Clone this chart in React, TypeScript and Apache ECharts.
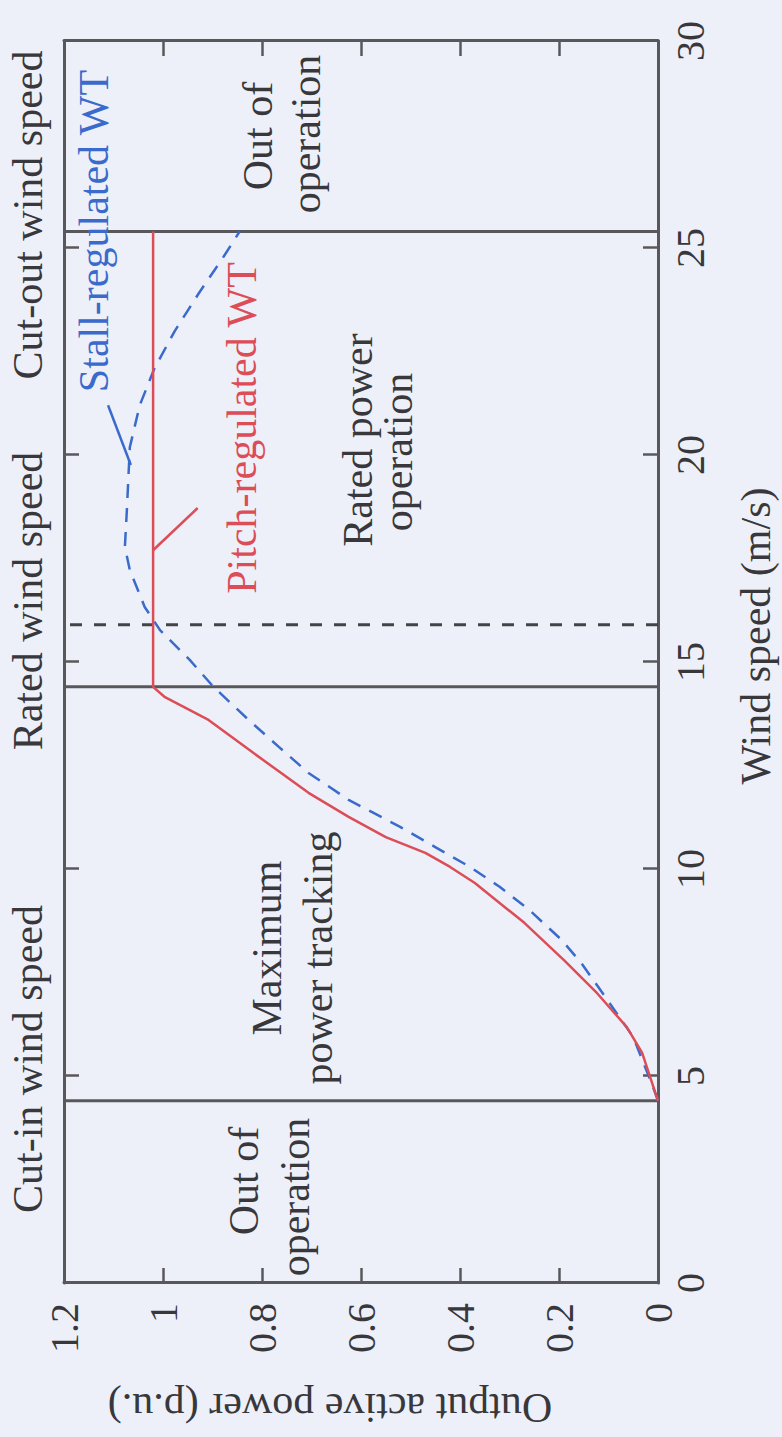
import React, { useEffect, useRef } from "react";
import * as echarts from "echarts";

// ---- data (wind speed in m/s, output power in p.u.) ----
const windTicks = [0, 5, 10, 15, 20, 25, 30];
const powerTicks = [0, 0.2, 0.4, 0.6, 0.8, 1, 1.2];

const pitchWind = [4.4, 5.56, 6.18, 7.0, 7.8, 8.7, 9.18, 9.66, 10.05, 10.39, 10.77, 11.26, 11.84, 12.8, 13.6, 14.15, 14.4, 25.4];
const pitchPower = [0, 0.032, 0.063, 0.123, 0.19, 0.27, 0.32, 0.37, 0.42, 0.47, 0.55, 0.625, 0.706, 0.817, 0.908, 0.996, 1.02, 1.02];

const stallWind = [4.4, 4.73, 5.94, 6.8, 7.73, 8.29, 9.01, 9.57, 10.05, 10.53, 11.01, 11.67, 12.32, 12.95, 13.6, 14.4, 15.05, 15.77, 16.33, 17.22, 17.78, 18.67, 20.19, 21.2, 22.1, 23.0, 23.9, 24.8, 25.4];
const stallPower = [0, 0.01, 0.05, 0.1, 0.155, 0.195, 0.26, 0.32, 0.38, 0.45, 0.52, 0.625, 0.706, 0.766, 0.827, 0.898, 0.946, 1.006, 1.037, 1.067, 1.077, 1.073, 1.067, 1.047, 1.017, 0.976, 0.928, 0.877, 0.845];

const boundaryWind = [4.4, 14.4, 25.4]; // cut-in, rated, cut-out
const ratedDashedWind = [15.9];
const boundaryPower = [0, 1.2];

const pitchPointerWind = [17.7, 18.72];
const pitchPointerPower = [1.02, 0.93];
const stallPointerWind = [21.2, 19.76];
const stallPointerPower = [1.111, 1.065];

const W = 1437;
const H = 782;
const FONT = "'Liberation Serif', 'Times New Roman', serif";
const GRAY = "#58585c";
const TEXT = "#38383c";
const RED = "#dc4d57";
const BLUE = "#3a6bcc";
const BG = "#edf0f8";

const zip = (xs: number[], ys: number[]) => xs.map((x, i) => [x, ys[i]]);

function txt(text: string, x: number, y: number, color = TEXT, size = 42, rotation = 0) {
  return {
    type: "text",
    x,
    y,
    rotation,
    silent: true,
    z: 100,
    style: {
      text,
      fill: color,
      font: `${size}px ${FONT}`,
      align: "center",
      verticalAlign: "middle",
      textAlign: "center",
      textVerticalAlign: "middle",
    },
  };
}

export default function App() {
  const ref = useRef<HTMLDivElement>(null);

  useEffect(() => {
    document.body.style.margin = "0";
    document.body.style.background = BG;
    if (!ref.current) return;
    const chart = echarts.init(ref.current, null, { renderer: "svg", width: W, height: H });

    const axisCommon = (show: boolean) => ({
      type: "value",
      axisLine: { show: true, onZero: false, lineStyle: { color: GRAY, width: 3 } },
      axisTick: { show: true, inside: true, length: 15, lineStyle: { color: GRAY, width: 2.5 } },
      splitLine: { show: false },
      axisLabel: {
        show,
        color: TEXT,
        fontFamily: FONT,
        fontSize: 40,
      },
    });

    const lineSeries = (data: number[][], color: string, width: number, type: any, z = 2) => ({
      type: "line",
      data,
      xAxisIndex: 0,
      yAxisIndex: 0,
      symbol: "none",
      silent: true,
      z,
      lineStyle: { color, width, type },
    });

    const series: any[] = [];
    boundaryWind.forEach((w) => {
      series.push(lineSeries(boundaryPower.map((p) => [w, p]), GRAY, 3, "solid", 1));
    });
    ratedDashedWind.forEach((w) => {
      series.push(lineSeries(boundaryPower.map((p) => [w, p]), "#444448", 2.8, [12, 12], 1));
    });
    series.push(lineSeries(zip(stallWind, stallPower), BLUE, 2.5, [14, 10], 3));
    series.push(lineSeries(zip(pitchWind, pitchPower), RED, 2.5, "solid", 4));
    series.push(lineSeries(zip(pitchPointerWind, pitchPointerPower), RED, 2.5, "solid", 4));
    series.push(lineSeries(zip(stallPointerWind, stallPointerPower), BLUE, 2.5, "solid", 4));

    chart.setOption({
      animation: false,
      backgroundColor: BG,
      grid: { left: 154, right: 41, top: 64, bottom: 124, containLabel: false },
      xAxis: [
        {
          ...axisCommon(true),
          position: "bottom",
          min: windTicks[0],
          max: windTicks[windTicks.length - 1],
          interval: 5,
          axisLabel: { ...axisCommon(true).axisLabel, margin: 12 },
        },
        {
          ...axisCommon(false),
          position: "top",
          min: windTicks[0],
          max: windTicks[windTicks.length - 1],
          interval: 5,
        },
      ],
      yAxis: [
        {
          ...axisCommon(true),
          position: "left",
          min: powerTicks[0],
          max: powerTicks[powerTicks.length - 1],
          interval: 0.2,
          axisLabel: { ...axisCommon(true).axisLabel, margin: 20 },
        },
        {
          ...axisCommon(false),
          position: "right",
          min: powerTicks[0],
          max: powerTicks[powerTicks.length - 1],
          interval: 0.2,
        },
      ],
      series,
      graphic: [
        txt("Cut-in wind speed", 378, 28),
        txt("Rated wind speed", 836, 28),
        txt("Cut-out wind speed", 1222, 28),
        txt("Out of", 256, 244),
        txt("operation", 240, 295),
        txt("Maximum", 489, 267),
        txt("power tracking", 479, 318),
        txt("Rated power", 997, 358),
        txt("operation", 985, 398),
        txt("Out of", 1301, 258),
        txt("operation", 1303, 306),
        txt("Pitch-regulated WT", 1009, 242, RED),
        txt("Stall-regulated WT", 1206, 94, BLUE),
        txt("Wind speed (m/s)", 801, 756),
        txt("Output active power (p.u.)", 29, 330, TEXT, 42, Math.PI / 2),
      ],
    });

    return () => chart.dispose();
  }, []);

  return (
    <div
      style={{
        position: "absolute",
        left: 0,
        top: 0,
        width: 782,
        height: 1437,
        overflow: "hidden",
        background: BG,
      }}
    >
      <div
        ref={ref}
        style={{
          position: "absolute",
          left: 0,
          top: 0,
          width: W,
          height: H,
          transformOrigin: "0 0",
          transform: `translateY(${W}px) rotate(-90deg)`,
        }}
      />
    </div>
  );
}
